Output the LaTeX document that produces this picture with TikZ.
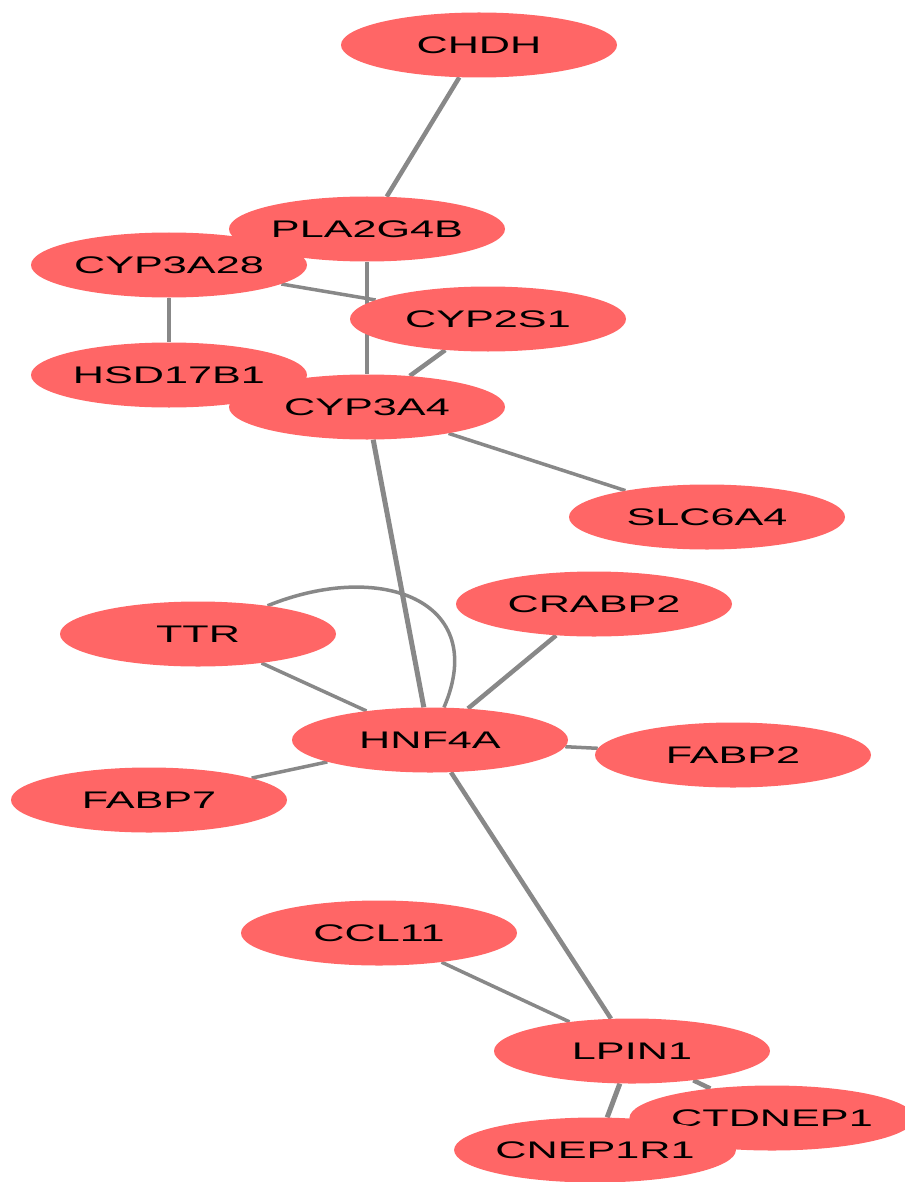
\documentclass[tikz,border=0pt]{standalone}
\usepackage{fontspec}
\usepackage{graphicx}
\setmainfont{Liberation Sans}
\usetikzlibrary{shapes.geometric,backgrounds}
\definecolor{nodered}{HTML}{FF6666}
\definecolor{edgegray}{HTML}{888888}
\tikzset{
  gene/.style={ellipse, fill=nodered, draw=none, minimum width=276pt, minimum height=65pt, inner sep=0pt,
    font=\fontsize{24}{24}\selectfont, text=black},
  link/.style={draw=edgegray, line width=4.5pt},
  thinlink/.style={draw=edgegray, line width=3.5pt},
  thicklink/.style={draw=edgegray, line width=5pt}
}
\newcommand{\gl}[1]{\scalebox{1.8}[1]{#1}}
\begin{document}
\begin{tikzpicture}[x=1pt,y=-1pt]
\useasboundingbox (0,0) rectangle (904,1182);
\node[gene] (chdh) at (479,45) {\gl{CHDH}};
\node[gene] (cyp3a28) at (169,265) {\gl{CYP3A28}};
\node[gene] (pla) at (367,229) {\gl{PLA2G4B}};
\node[gene] (cyp2s1) at (488,319) {\gl{CYP2S1}};
\node[gene] (hsd) at (169,375) {\gl{HSD17B1}};
\node[gene] (cyp3a4) at (367,407) {\gl{CYP3A4}};
\node[gene] (slc) at (707,517) {\gl{SLC6A4}};
\node[gene] (crabp) at (594,604) {\gl{CRABP2}};
\node[gene] (ttr) at (198,634) {\gl{TTR}};
\node[gene] (hnf) at (430,740) {\gl{HNF4A}};
\node[gene] (fabp2) at (733,755) {\gl{FABP2}};
\node[gene] (fabp7) at (149,800) {\gl{FABP7}};
\node[gene] (ccl) at (379,933) {\gl{CCL11}};
\node[gene] (lpin) at (632,1051) {\gl{LPIN1}};
\node[gene] (ctd) at (772,1118) {\gl{CTDNEP1}};
\node[gene] (cnep) at (595,1150) {\gl{CNEP1R1}};
\begin{pgfonlayer}{background}
\draw[link] (chdh) -- (pla);
\draw[link] (pla) -- (cyp3a4);
\draw[thinlink] (cyp3a28) -- (cyp2s1);
\draw[link] (cyp3a28) -- (hsd);
\draw[link] (cyp2s1) -- (cyp3a4);
\draw[thinlink] (cyp3a4) -- (slc);
\draw[thicklink] (cyp3a4) -- (hnf);
\draw[thinlink] (ttr) -- (hnf);
\draw[thinlink] (ttr) .. controls (380,560) and (490,600) .. (hnf);
\draw[link] (crabp) -- (hnf);
\draw[thinlink] (hnf) -- (fabp2);
\draw[thinlink] (fabp7) -- (hnf);
\draw[link] (hnf) -- (lpin);
\draw[thinlink] (ccl) -- (lpin);
\draw[thicklink] (lpin) -- (cnep);
\draw[link] (lpin) -- (ctd);
\end{pgfonlayer}
\end{tikzpicture}
\end{document}
